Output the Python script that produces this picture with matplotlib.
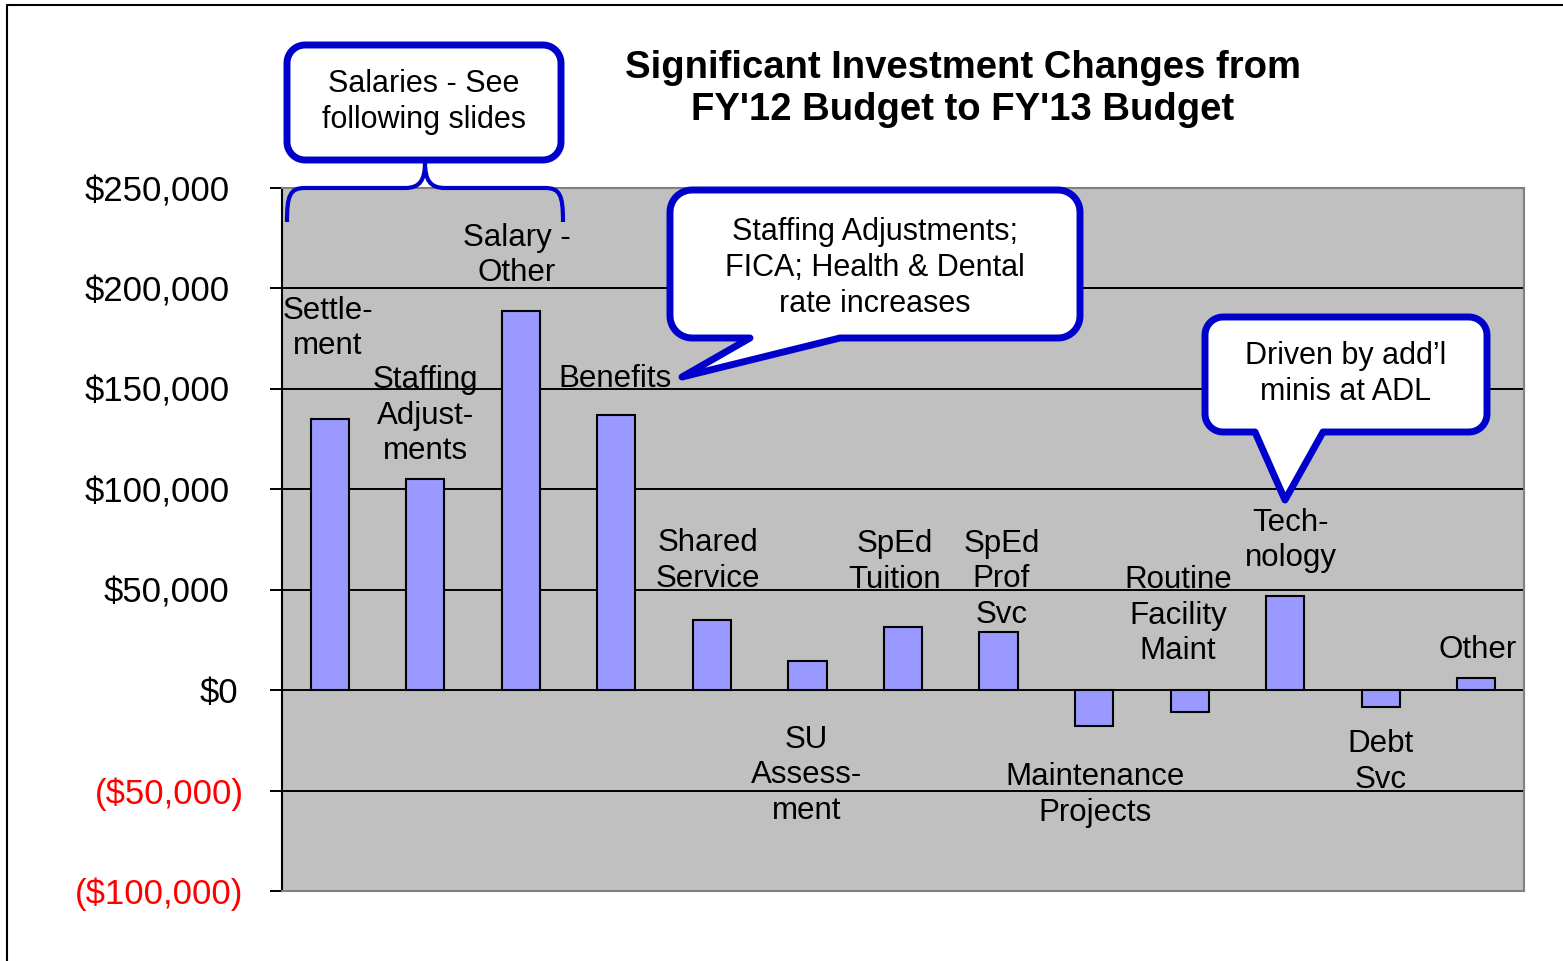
import matplotlib
matplotlib.use('Agg')
from matplotlib import pyplot as plt
from matplotlib import patches, transforms
from matplotlib.path import Path
import numpy as np

plt.rcParams['font.family'] = ['Liberation Sans', 'DejaVu Sans']

# data
categories = ['Settle-\nment', 'Staffing\nAdjust-\nments', 'Salary -\nOther', 'Benefits',
              'Shared\nService', 'SU\nAssess-\nment', 'SpEd\nTuition', 'SpEd\nProf\nSvc',
              'Maintenance\nProjects', 'Routine\nFacility\nMaint', 'Tech-\nnology',
              'Debt\nSvc', 'Other']
changes = [135000, 105000, 189000, 137000, 35000, 14500, 31500, 29000,
           -18000, -11000, 47000, -8500, 6000]
yticks = [-100000, -50000, 0, 50000, 100000, 150000, 200000, 250000]

# where each data label sits (offset in categories, y in dollars)
label_dx = [-0.02, 0.0, -0.04, -0.01, -0.04, -0.01, -0.09, 0.03, 0.01, -0.12, 0.06, 0.0, 0.01]
label_y = [180000, 136500, 216500, 155000, 64300, -42400, 63800, 55300,
           -52300, 37100, 74500, -35900, 20000]

W, H = 1563, 961
BLUE = '#0000CC'


def fmt_money(v):
    if v < 0:
        return '(${:,})'.format(-v)
    return '${:,}'.format(v)


def callout(x0, y0, x1, y1, r, base=None, tip=None, n=12):
    # rounded box, optional pointer on bottom edge (pixel coords, y down)
    pts = []

    def arc(cx, cy, a0, a1):
        for t in np.linspace(np.radians(a0), np.radians(a1), n):
            pts.append((cx + r * np.cos(t), cy + r * np.sin(t)))
    arc(x0 + r, y0 + r, 180, 270)
    arc(x1 - r, y0 + r, 270, 360)
    arc(x1 - r, y1 - r, 0, 90)
    if base is not None:
        pts.append((base[1], y1))
        pts.append(tip)
        pts.append((base[0], y1))
    arc(x0 + r, y1 - r, 90, 180)
    return patches.Polygon(pts, closed=True, facecolor='white', edgecolor=BLUE,
                           linewidth=5, joinstyle='round', zorder=5)


fig = plt.figure(figsize=(W / 100, H / 100), dpi=100)
ax = fig.add_axes([282 / W, 1 - 891 / H, (1524 - 282) / W, (891 - 188) / H])
ax.set_facecolor('#C0C0C0')

x = np.arange(len(categories))
ax.bar(x, changes, width=0.4, color='#9999FF', edgecolor='black', linewidth=1.5, zorder=3)

ax.set_xlim(-0.5, len(categories) - 0.5)
ax.set_ylim(yticks[0], yticks[-1])
for v in yticks[1:-1]:
    ax.axhline(v, color='black', linewidth=1.4, zorder=1)

ax.set_xticks([])
ax.set_yticks(yticks)
ax.set_yticklabels([fmt_money(v) for v in yticks], fontsize=25)
ax.tick_params(axis='y', direction='out', length=8.6, width=1.4, pad=19)
for lab, v in zip(ax.get_yticklabels(), yticks):
    if v < 0:
        lab.set_color('red')
    else:
        shift = -0.05 if v == 0 else -0.14
        lab.set_transform(lab.get_transform() +
                          transforms.ScaledTranslation(shift, 0, fig.dpi_scale_trans))

for s in ['top', 'right', 'bottom']:
    ax.spines[s].set_color('#808080')
    ax.spines[s].set_linewidth(1.5)
ax.spines['left'].set_color('black')
ax.spines['left'].set_linewidth(1.5)

for i, name in enumerate(categories):
    ax.text(x[i] + label_dx[i], label_y[i], name, ha='center', va='center',
            fontsize=22.5, linespacing=1.24, zorder=4)

# overlay in pixel coordinates for the annotations
ov = fig.add_axes([0, 0, 1, 1], zorder=10)
ov.set_xlim(0, W)
ov.set_ylim(H, 0)
ov.axis('off')
ov.patch.set_alpha(0)

# outer frame
ov.plot([7, 7, W + 5], [H + 5, 5, 5], color='black', linewidth=1.5)

ov.text(963, 89, "Significant Investment Changes from\nFY'12 Budget to FY'13 Budget",
        ha='center', va='center', fontsize=27.5, fontweight='bold', linespacing=1.2)

ov.add_patch(callout(287, 45, 561, 160, 18))
ov.text(424, 102, 'Salaries - See\nfollowing slides', ha='center', va='center',
        fontsize=22, linespacing=1.27, zorder=6)

# brace under the salaries box
brace = Path([(287, 222), (287, 195), (290, 188), (305, 188),
              (405, 188), (420, 188), (425, 180), (425, 162),
              (425, 180), (430, 188), (445, 188),
              (545, 188), (560, 188), (563, 195), (563, 222)],
             [Path.MOVETO, Path.CURVE4, Path.CURVE4, Path.CURVE4,
              Path.LINETO, Path.CURVE4, Path.CURVE4, Path.CURVE4,
              Path.CURVE4, Path.CURVE4, Path.CURVE4,
              Path.LINETO, Path.CURVE4, Path.CURVE4, Path.CURVE4])
ov.add_patch(patches.PathPatch(brace, facecolor='none', edgecolor=BLUE, linewidth=3, zorder=5))

ov.add_patch(callout(670, 190, 1080, 338, 22, base=(750, 840), tip=(682, 377)))
ov.text(875, 268, 'Staffing Adjustments;\nFICA; Health & Dental\nrate increases',
        ha='center', va='center', fontsize=22, linespacing=1.27, zorder=6)

ov.add_patch(callout(1205, 317, 1487, 432, 18, base=(1255, 1323), tip=(1285, 500)))
ov.text(1346, 374, 'Driven by add\u2019l\nminis at ADL', ha='center', va='center',
        fontsize=22, linespacing=1.27, zorder=6)

fig.savefig('out.png', dpi=100)
